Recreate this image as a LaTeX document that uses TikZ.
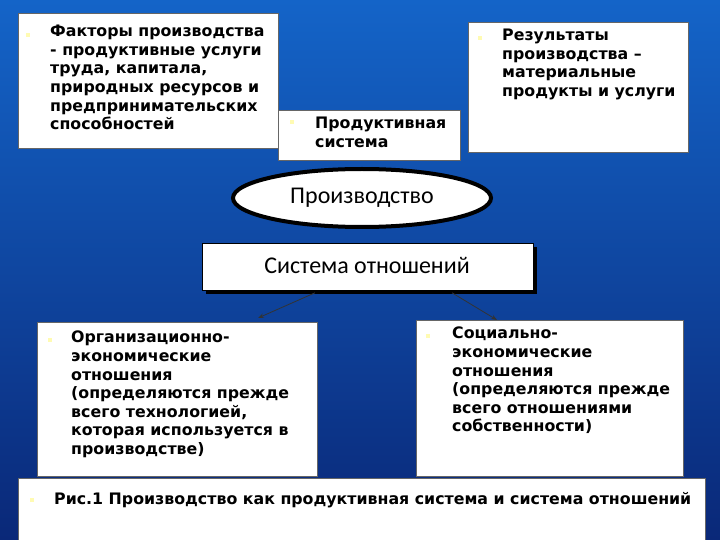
\documentclass[tikz,border=0pt]{standalone}
\usepackage{fontspec}
\setmainfont{DejaVu Sans}
\newfontfamily\calib{Carlito}
\usetikzlibrary{shapes.geometric,arrows.meta}
\begin{document}
\begin{tikzpicture}[x=1pt,y=-1pt,
  wbox/.style={draw=black!60,fill=white,line width=0.6pt},
  txt/.style={anchor=north west,align=left,font=\bfseries\fontsize{15.8}{18.6}\selectfont,inner sep=0pt},
  bul/.style={fill=yellow!30!white,minimum size=4pt,inner sep=0pt},
  arr/.style={-{Stealth[length=6pt]},draw=black!80,line width=0.8pt}]
\useasboundingbox (0,0) rectangle (720,540);
\shade[top color={rgb,255:red,20;green,100;blue,200},bottom color={rgb,255:red,10;green,40;blue,120}] (0,0) rectangle (720,540);
% boxes
\draw[wbox] (18,13) rectangle (278,148);
\node[bul] (d1) at (28,35) {};
\node[txt] (t1) at (50,25) {Факторы производства\\- продуктивные услуги\\труда, капитала,\\природных ресурсов и\\предпринимательских\\способностей};
\draw[wbox] (278,110) rectangle (460,160);
\node[bul] (d2) at (292,122) {};
\node[txt] (t2) at (315,117) {Продуктивная\\система};
\draw[wbox] (468,22) rectangle (688,152);
\node[bul] (d3) at (480,38) {};
\node[txt] (t3) at (502,29) {Результаты\\производства –\\материальные\\продукты и услуги};
\node[ellipse,draw=black,line width=4pt,fill=white,minimum width=258pt,minimum height=58pt,font=\calib\fontsize{24}{28}\selectfont] (e) at (362,198) {Производство};
\fill[black] (206,247) rectangle (537,294);
\node[draw=black,line width=0.8pt,fill=white,minimum width=331pt,minimum height=47pt,inner sep=0pt,anchor=north west] (s) at (202,243) {};
\node[font=\calib\fontsize{24}{28}\selectfont] (st) at (367,265) {Система отношений};
\draw[wbox] (37,322) rectangle (317,476);
\node[bul] (d4) at (50,340) {};
\node[txt] (t4) at (71,331) {Организационно-\\экономические\\отношения\\(определяются прежде\\всего технологией,\\которая используется в\\производстве)};
\draw[wbox] (416,320) rectangle (683,476);
\node[bul] (d5) at (428,336) {};
\node[txt] (t5) at (452,327) {Социально-\\экономические\\отношения\\(определяются прежде\\всего отношениями\\собственности)};
\coordinate (a1) at (258,318);
\coordinate (a2) at (497,320);
\draw[arr] (s.south west) ++(113,2) -- (a1);
\draw[arr] (s.south west) ++(250,2) -- (a2);
\draw[wbox] (18,478) rectangle (705,545);
\node[bul] (d6) at (32,500) {};
\node[txt] (t6) at (54,492) {Рис.1 Производство как продуктивная система и система отношений};
\end{tikzpicture}
\end{document}
